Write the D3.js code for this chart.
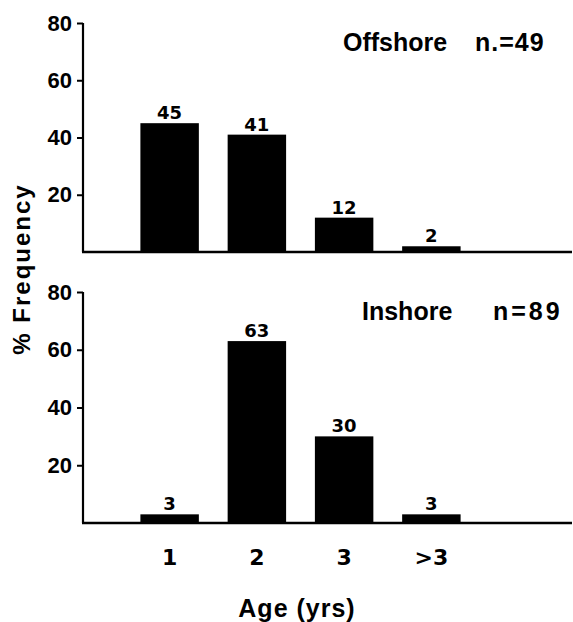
<!DOCTYPE html>
<html>
<head>
<meta charset="utf-8">
<script src="https://cdn.jsdelivr.net/npm/d3@7"></script>
<style>
  body { margin: 0; background: #fff; }
  svg text { font-family: "Liberation Sans", Arial, sans-serif; fill: #000; }
</style>
</head>
<body>
<div class="chart-container"></div>
<script>
const width = 573, height = 622;

// data
var ages = ["1", "2", "3", ">3"];
var offshore = [45, 41, 12, 2];
var inshore = [3, 63, 30, 3];
var yTicks = [20, 40, 60, 80];
var panelNames = ["Offshore", "Inshore"];
var panelN = ["n.=49", "n=89"];

var svg = d3.select(".chart-container")
    .append("svg")
    .attr("width", width)
    .attr("height", height);

var axisX = 83, axisEnd = 572;

var x = d3.scaleBand()
    .domain(ages)
    .range([126, 475])
    .paddingInner(0.33)
    .paddingOuter(0.165);

// one group per panel: baseline y and y of 80
var panels = [
    {vals: offshore, y0: 252, y1: 23, name: panelNames[0], n: panelN[0], nameX: 343, nX: 475, nSp: 1},
    {vals: inshore, y0: 523, y1: 292, name: panelNames[1], n: panelN[1], nameX: 362, nX: 493, nSp: 3}
];

panels.forEach(function(p) {
    var y = d3.scaleLinear().domain([0, 80]).range([p.y0, p.y1]);
    var g = svg.append("g");

    // y axis (no tick at 0)
    var yAxis = d3.axisLeft(y).tickValues(yTicks).tickSize(6).tickPadding(5);
    var ga = g.append("g").attr("transform", "translate(" + axisX + ",0)").call(yAxis);
    ga.select(".domain").attr("d", "M0," + y(80) + "V" + y(0)).attr("stroke-width", 2.2);
    ga.selectAll(".tick line").attr("stroke-width", 2);
    ga.selectAll(".tick text")
        .attr("font-size", 22)
        .attr("font-weight", "bold")
        .style("font-family", "'Liberation Sans', Arial, sans-serif");

    // baseline
    g.append("line")
        .attr("x1", axisX - 1).attr("x2", axisEnd)
        .attr("y1", y(0)).attr("y2", y(0))
        .attr("stroke", "#000").attr("stroke-width", 2.6);

    // bars
    g.selectAll("rect")
        .data(p.vals)
        .enter()
        .append("rect")
        .attr("x", (d, i) => x(ages[i]))
        .attr("width", x.bandwidth())
        .attr("y", d => y(d))
        .attr("height", d => y(0) - y(d))
        .attr("fill", "#000");

    // value labels
    g.selectAll(".val")
        .data(p.vals)
        .enter()
        .append("text")
        .attr("class", "val")
        .attr("x", (d, i) => x(ages[i]) + x.bandwidth() / 2)
        .attr("y", d => y(d) - 4)
        .attr("text-anchor", "middle")
        .attr("font-size", 18)
        .style("font-family", "'DejaVu Sans', sans-serif")
        .attr("font-weight", "bold")
        .text(d => d);

    g.append("text")
        .attr("x", p.nameX).attr("y", p.y1 + 28)
        .attr("font-size", 25)
        .attr("font-weight", "bold")
        .text(p.name);
    g.append("text")
        .attr("x", p.nX).attr("y", p.y1 + 28)
        .attr("font-size", 25)
        .attr("font-weight", "bold")
        .attr("letter-spacing", p.nSp)
        .text(p.n);
});

// x labels under bottom panel
svg.selectAll(".xlab")
    .data(ages)
    .enter()
    .append("text")
    .attr("class", "xlab")
    .attr("x", d => x(d) + x.bandwidth() / 2)
    .attr("y", 565)
    .attr("text-anchor", "middle")
    .attr("font-size", 22)
    .style("font-family", "'DejaVu Sans', sans-serif")
    .attr("font-weight", "bold")
    .text(d => d);

svg.append("text")
    .attr("x", 297).attr("y", 617)
    .attr("text-anchor", "middle")
    .attr("font-size", 25)
    .attr("font-weight", "bold")
    .attr("letter-spacing", 1)
    .text("Age (yrs)");

svg.append("text")
    .attr("transform", "translate(30,269) rotate(-90)")
    .attr("text-anchor", "middle")
    .attr("font-size", 24)
    .attr("font-weight", "bold")
    .attr("letter-spacing", 2)
    .text("% Frequency");
</script>
</body>
</html>
